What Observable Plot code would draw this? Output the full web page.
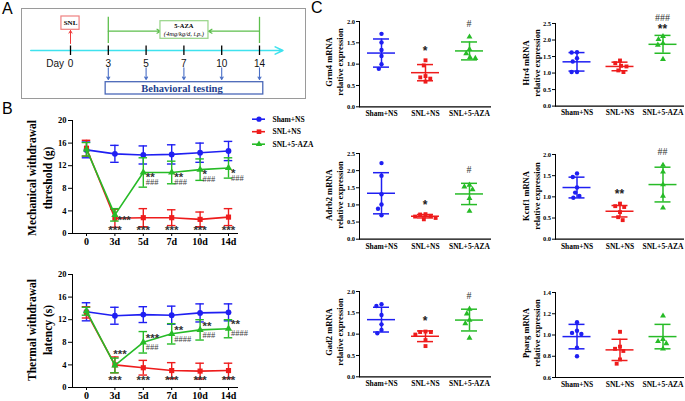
<!DOCTYPE html>
<html><head><meta charset="utf-8">
<script src="https://cdn.jsdelivr.net/npm/d3@7"></script>
<script src="https://cdn.jsdelivr.net/npm/@observablehq/plot@0.6"></script>
<style>
body{margin:0;background:#fff;}
#root{position:relative;width:685px;height:401px;overflow:hidden;background:#fff;font-family:"Liberation Serif",serif;}
.abs{position:absolute;}
.letter{position:absolute;font-family:"Liberation Sans",Arial,sans-serif;font-size:16px;line-height:16px;color:#000;}
.ytitle{position:absolute;transform:translate(-50%,-50%) rotate(-90deg);white-space:nowrap;text-align:center;font-family:"Liberation Serif",serif;font-weight:bold;color:#000;}
.bchart [aria-label^="y-axis"] text{font-size:8.5px;}
.bchart [aria-label^="x-axis"] text{font-size:10px;}
.cchart [aria-label^="y-axis"] text{font-size:6.5px;}
.cchart [aria-label^="fx-axis"] text{font-size:7.5px;}
</style>
</head><body>
<div id="root"></div>
<script>
// ---------- DATA ----------
// Panel A schedule
const scheduleDays = ["0","3","5","7","10","14"];
const testingDays = ["3","5","7","10","14"];
const treatStart = "3", treatEnd = "14";

// Panel B
const dayLabels = ["0","3d","5d","7d","10d","14d"];
const seriesNames = ["Sham+NS","SNL+NS","SNL+5-AZA"];
const seriesColors = ["#1f1ff2","#ee1c1c","#27bb27"];
const seriesSymbols = ["circle","square","triangle"];

const mechSham = [14.8,14.1,13.9,14.0,14.3,14.6];
const mechShamSD = [1.4,1.5,1.6,1.7,1.7,1.7];
const mechSNL = [15.1,2.7,2.8,2.8,2.5,2.9];
const mechSNLSD = [1.4,1.6,1.6,1.4,1.3,1.5];
const mechAZA = [14.9,3.3,10.8,10.8,11.3,11.6];
const mechAZASD = [1.2,1.1,2.6,2.0,1.9,1.8];
const mechStarsSNL = ["","***","***","***","***","***"];
const mechStarsAZA = ["","***","**","**","*","*"];
const mechHashAZA = ["","","###","###","###","###"];

const thermSham = [13.4,12.7,12.9,12.8,13.2,13.3];
const thermShamSD = [1.6,1.5,1.4,1.6,1.6,1.5];
const thermSNL = [13.3,4.0,3.5,3.0,2.9,3.0];
const thermSNLSD = [1.0,1.4,1.3,1.4,1.4,1.3];
const thermAZA = [13.5,3.9,8.0,9.5,10.2,10.4];
const thermAZASD = [0.7,1.3,1.9,1.8,1.8,1.6];
const thermStarsSNL = ["","***","***","***","***","***"];
const thermStarsAZA = ["","***","***","**","**","**"];
const thermHashAZA = ["","","###","####","###","####"];

// Panel C
const groups = ["Sham+NS","SNL+NS","SNL+5-AZA"];

const grm4Sham = [1.71,1.51,1.33,1.19,1.00,0.89];
const grm4SNL = [1.09,0.97,0.72,0.69,0.66,0.59];
const grm4AZA = [1.64,1.35,1.25,1.16,1.14];
const grm4Mean = [1.26,0.80,1.31];
const grm4SD = [0.33,0.19,0.21];
const grm4Stars = ["","*",""];
const grm4Hash = ["","","#"];

const htr4Sham = [1.63,1.62,1.45,1.35,1.03,1.03];
const htr4SNL = [1.38,1.30,1.22,1.20,1.08,1.03];
const htr4AZA = [2.11,2.02,1.90,1.85,1.42];
const htr4Mean = [1.34,1.20,1.87];
const htr4SD = [0.28,0.13,0.27];
const htr4Stars = ["","","**"];
const htr4Hash = ["","","###"];

const adrb2Sham = [2.22,1.85,1.31,1.01,0.89,0.70];
const adrb2SNL = [0.73,0.72,0.68,0.66,0.62,0.58];
const adrb2AZA = [1.58,1.53,1.45,1.19,0.82];
const adrb2Mean = [1.34,0.67,1.32];
const adrb2SD = [0.60,0.05,0.31];
const adrb2Stars = ["","*",""];
const adrb2Hash = ["","","#"];

const kcnf1Sham = [1.55,1.47,1.22,1.10,1.02,0.98];
const kcnf1SNL = [0.84,0.78,0.76,0.64,0.52,0.45];
const kcnf1AZA = [1.75,1.59,1.29,1.02,0.74];
const kcnf1Mean = [1.22,0.66,1.29];
const kcnf1SD = [0.245,0.135,0.41];
const kcnf1Stars = ["","**",""];
const kcnf1Hash = ["","","##"];

const gad2Sham = [1.70,1.66,1.45,1.23,1.10,1.02];
const gad2SNL = [1.06,1.05,1.05,0.99,0.86,0.72];
const gad2AZA = [1.59,1.48,1.33,1.25,0.91];
const gad2Mean = [1.34,0.95,1.33];
const gad2SD = [0.29,0.125,0.255];
const gad2Stars = ["","*",""];
const gad2Hash = ["","","#"];

const ppargSham = [1.12,1.04,1.02,1.01,0.88,0.80];
const ppargSNL = [1.03,0.89,0.87,0.85,0.77,0.73];
const ppargAZA = [1.18,0.96,0.94,0.92,0.87];
const ppargMean = [0.985,0.86,0.985];
const ppargSD = [0.115,0.10,0.115];
const ppargStars = ["","",""];
const ppargHash = ["","",""];

// ---------- LAYOUT HELPERS ----------
const root = document.getElementById("root");
function place(el, left, top, width, cls) {
  const d = document.createElement("div");
  d.className = "abs " + (cls || "");
  d.style.left = left + "px"; d.style.top = top + "px"; d.style.width = width + "px";
  d.appendChild(el); root.appendChild(d);
}
function letter(t, left, top) {
  const d = document.createElement("div");
  d.className = "letter"; d.textContent = t;
  d.style.left = left + "px"; d.style.top = top + "px";
  root.appendChild(d);
}
function ytitle(lines, cx, cy, size, lh) {
  const d = document.createElement("div");
  d.className = "ytitle";
  d.style.left = cx + "px"; d.style.top = cy + "px";
  d.style.fontSize = size + "px"; d.style.lineHeight = lh + "px";
  lines.forEach((t, i) => { if (i) d.appendChild(document.createElement("br")); d.appendChild(document.createTextNode(t)); });
  root.appendChild(d);
}
const baseStyle = {background: "transparent", overflow: "visible", fontFamily: "Liberation Serif", fontWeight: "bold", color: "#000"};

// ---------- PANEL A ----------
function panelA() {
  const idx = scheduleDays.map((d, i) => i);
  const test = testingDays.map(d => scheduleDays.indexOf(d));
  const s = scheduleDays.indexOf(treatStart), e = scheduleDays.indexOf(treatEnd);
  const mid = (s + e) / 2;
  const boxL = 2.38, boxR = 3.65;
  const green = "#5dbf4c", blue = "#4a6fc6";
  return Plot.plot({
    width: 286, height: 92, margin: 0,
    x: {domain: [0, 5], range: [50, 239], axis: null},
    y: {domain: [0, 92], range: [0, 92], axis: null},
    style: {...baseStyle, fontWeight: "normal"},
    marks: [
      Plot.frame({stroke: "#9a9a9a", inset: 1}),
      Plot.arrow([0], {x1: -1.05, x2: 5.62, y1: 43, y2: 43, stroke: "#3fe2ee", strokeWidth: 1.6, headLength: 8, headAngle: 50}),
      Plot.ruleX(idx, {x: d => d, y1: 38.5, y2: 48, stroke: "#000", strokeWidth: 1.3}),
      Plot.text(idx, {x: d => d, y: 56.5, text: d => scheduleDays[d], fontFamily: "Liberation Sans", fontSize: 10, fill: "#111"}),
      Plot.text(["Day"], {x: 0, y: 56.5, dx: -6.5, textAnchor: "end", text: d => d, fontFamily: "Liberation Sans", fontSize: 10, fill: "#111"}),
      Plot.arrow([0], {x1: 0, x2: 0, y1: 36, y2: 23, stroke: "#ee3a3a", strokeWidth: 1, headLength: 4.5}),
      Plot.rect([0], {x1: -0.24, x2: 0.24, y1: 9, y2: 22.3, stroke: "#ef8080", fill: "#fff", strokeWidth: 1.2}),
      Plot.text(["SNL"], {x: 0, y: 15.7, text: d => d, fontSize: 7, fontWeight: "bold"}),
      Plot.ruleX([s, e], {x: d => d, y1: 9.8, y2: 36, stroke: green, strokeWidth: 1.3}),
      Plot.arrow([s], {x1: d => d, x2: boxL, y1: 23.7, y2: 23.7, stroke: green, strokeWidth: 1.2, headLength: 5}),
      Plot.arrow([e], {x1: d => d, x2: boxR, y1: 23.7, y2: 23.7, stroke: green, strokeWidth: 1.2, headLength: 5}),
      Plot.rect([0], {x1: boxL, x2: boxR, y1: 13.7, y2: 31.3, stroke: "#96d487", fill: "#fff", strokeWidth: 1.2}),
      Plot.text(["5-AZA"], {x: mid, y: 18.3, text: d => d, fontSize: 6.5, fontWeight: "bold"}),
      Plot.text(["(4mg/kg/d, i.p.)"], {x: mid, y: 26.7, text: d => d, fontSize: 6.5, fontStyle: "italic"}),
      Plot.arrow(test, {x1: d => d, x2: d => d, y1: 60.3, y2: 72, stroke: blue, strokeWidth: 1.1, headLength: 4}),
      Plot.rect([0], {x1: 0.93, x2: 5.1, y1: 74.7, y2: 87, stroke: "#4a68b8", fill: "#fff", strokeWidth: 1.3}),
      Plot.text(["Behavioral testing"], {x: 2.95, y: 81.3, text: d => d, fontSize: 10.5, fontWeight: "bold", fill: "#243f8e"})
    ]
  });
}

// ---------- PANEL B ----------
function lineChart(means, sds, starsSNL, starsAZA, hashAZA, opt) {
  const rows = [];
  means.forEach((arr, s) => arr.forEach((m, i) => rows.push({s, i, m, sd: sds[s][i]})));
  const idx = dayLabels.map((d, i) => i);
  const marks = [Plot.ruleY([0], {stroke: "#000", strokeWidth: 1.2})];
  seriesNames.forEach((name, s) => {
    const rs = rows.filter(r => r.s === s);
    const c = seriesColors[s];
    marks.push(
      Plot.line(rs, {x: "i", y: "m", stroke: c, strokeWidth: 1.6}),
      Plot.ruleX(rs, {x: "i", y1: r => r.m - r.sd, y2: r => r.m + r.sd, stroke: c, strokeWidth: 1.4}),
      Plot.ruleY(rs, {y: r => r.m + r.sd, x1: r => r.i - 0.15, x2: r => r.i + 0.15, stroke: c, strokeWidth: 1.4}),
      Plot.ruleY(rs, {y: r => r.m - r.sd, x1: r => r.i - 0.15, x2: r => r.i + 0.15, stroke: c, strokeWidth: 1.4}),
      Plot.dot(rs, {x: "i", y: "m", symbol: seriesSymbols[s], fill: c, r: s === 2 ? 2.7 : 2.9})
    );
  });
  const aza = means[2];
  marks.push(
    Plot.text(idx.filter(i => starsSNL[i]), {x: d => d, frameAnchor: "bottom", dy: opt.redDy, text: i => starsSNL[i], fontFamily: "Liberation Sans", fontSize: 11.5, fill: "#333"}),
    Plot.text(idx.filter(i => starsAZA[i] && !(opt.firstAbove && i === 1)), {x: d => d, y: i => aza[i], dx: 2.5, dy: opt.starDy, textAnchor: "start", text: i => starsAZA[i], fontFamily: "Liberation Sans", fontSize: 11.5, fill: "#333"}),
    Plot.text(idx.filter(i => starsAZA[i] && opt.firstAbove && i === 1), {x: d => d, y: i => aza[i], dx: 5, dy: -11, text: i => starsAZA[i], fontFamily: "Liberation Sans", fontSize: 11.5, fill: "#333"}),
    Plot.text(idx.filter(i => hashAZA[i]), {x: d => d, y: i => aza[i], dx: 2.5, dy: opt.hashDy, textAnchor: "start", text: i => hashAZA[i], fontSize: 8.5, fontWeight: "normal", fill: "#444"})
  );
  return Plot.plot({
    width: 245, height: 137, marginLeft: 72, marginRight: 7, marginTop: 10, marginBottom: 14,
    x: {domain: [0, 5], range: [86, 228], ticks: idx, tickFormat: i => dayLabels[i], tickSize: 3, tickPadding: 1.5, label: null},
    y: {domain: [0, 20], ticks: [0, 4, 8, 12, 16, 20], tickSize: 4, tickPadding: 2, line: true, label: null},
    style: {...baseStyle, fontSize: "8.5px"},
    marks
  });
}

function legendB() {
  const idx = seriesNames.map((d, i) => i);
  return Plot.plot({
    width: 75, height: 45, margin: 0,
    x: {domain: [0, 1], range: [4, 17], axis: null},
    y: {domain: [0, 2], range: [8.7, 33.7], axis: null},
    style: {...baseStyle},
    marks: [
      Plot.ruleY(idx, {y: d => d, x1: 0, x2: 1, stroke: i => seriesColors[i], strokeWidth: 1.6}),
      Plot.dot(idx.filter(i => i === 0), {x: 0.5, y: d => d, symbol: "circle", fill: seriesColors[0], r: 2.6}),
      Plot.dot(idx.filter(i => i === 1), {x: 0.5, y: d => d, symbol: "square", fill: seriesColors[1], r: 2.6}),
      Plot.dot(idx.filter(i => i === 2), {x: 0.5, y: d => d, symbol: "triangle", fill: seriesColors[2], r: 2.4}),
      Plot.text(idx, {x: 1, y: d => d, dx: 7, textAnchor: "start", text: i => seriesNames[i], fontSize: 7.5, fontWeight: "bold"})
    ]
  });
}

// ---------- PANEL C ----------
function scatter(cfg) {
  const {values, means, sds, stars, hashes, domain, ticks, frame} = cfg;
  const rows = [];
  groups.forEach((g, k) => {
    const top = Math.max(d3.max(values[k]), means[k] + sds[k]);
    values[k].forEach((v, j) => rows.push({g, v, mean: means[k], sd: sds[k], top, star: stars[k], hash: hashes[k], first: j === 0}));
  });
  const mL = 22, mR = 2, mT = 8, mB = 16;
  const fw = frame.r - frame.l, band = fw / 3;
  const meanInset = (band - 28) / 2, capInset = (band - 16) / 2;
  const svg = Plot.plot({
    width: mL + fw + mR, height: mT + (frame.b - frame.t) + mB,
    marginLeft: mL, marginRight: mR, marginTop: mT, marginBottom: mB,
    facet: {data: rows, x: "g"},
    fx: {domain: groups, padding: 0, axis: "bottom", tickSize: 0, tickPadding: 4, label: null},
    x: {domain: [-1, 1], axis: null},
    y: {domain, ticks, tickFormat: d3.format(".1f"), tickSize: 3, tickPadding: 1.5, line: true, label: null, nice: false},
    color: {domain: groups, range: seriesColors},
    symbol: {domain: groups, range: seriesSymbols},
    style: {...baseStyle, fontSize: "6.5px"},
    marks: [
      Plot.ruleY([domain[0]], {stroke: "#000", strokeWidth: 1.2}),
      Plot.ruleX(rows, {filter: d => d.first, x: 0, y1: d => d.mean - d.sd, y2: d => d.mean + d.sd, stroke: "g", strokeWidth: 1.5}),
      Plot.tickY(rows, {filter: d => d.first, y: "mean", stroke: "g", strokeWidth: 1.5, insetLeft: meanInset, insetRight: meanInset}),
      Plot.tickY(rows, {filter: d => d.first, y: d => d.mean + d.sd, stroke: "g", strokeWidth: 1.5, insetLeft: capInset, insetRight: capInset}),
      Plot.tickY(rows, {filter: d => d.first, y: d => d.mean - d.sd, stroke: "g", strokeWidth: 1.5, insetLeft: capInset, insetRight: capInset}),
      Plot.dot(rows, Plot.dodgeX("middle", {y: "v", r: 2.2, fill: "g", symbol: "g"})),
      Plot.text(rows, {filter: d => d.first && d.star, x: 0, y: "top", text: "star", fontFamily: "Liberation Sans", fontSize: 12, fill: "#222"}),
      Plot.text(rows, {filter: d => d.first && d.hash, x: 0, y: "top", text: "hash", fontSize: 10, fontWeight: "normal", fill: "#333"})
    ]
  });
  // vertical offsets of significance labels (layout)
  const tx = svg.querySelectorAll('g[aria-label="text"]');
  if (tx[0]) tx[0].setAttribute("transform", `translate(0,${cfg.both ? -6 : -9})`);
  if (tx[1]) tx[1].setAttribute("transform", `translate(0,${cfg.both ? -17 : -13})`);
  place(svg, frame.l - mL, frame.t - mT, mL + fw + mR, "cchart");
  ytitle(cfg.title, frame.l < 500 ? 333.7 : 531, (frame.t + frame.b) / 2 - 1, 8.5, 10.5);
}

// ---------- BUILD ----------
letter("A", 2, 1);
letter("B", 2, 101);
letter("C", 311, 0);

place(panelA(), 20, 7, 286);

place(lineChart([mechSham, mechSNL, mechAZA], [mechShamSD, mechSNLSD, mechAZASD], mechStarsSNL, mechStarsAZA, mechHashAZA,
  {redDy: 0, starDy: 5, hashDy: 10, firstAbove: false}), 0, 110, 245, "bchart");
place(lineChart([thermSham, thermSNL, thermAZA], [thermShamSD, thermSNLSD, thermAZASD], thermStarsSNL, thermStarsAZA, thermHashAZA,
  {redDy: -4, starDy: -4, hashDy: 5, firstAbove: true}), 0, 264, 245, "bchart");
place(legendB(), 248, 110, 75);
ytitle(["Mechanical withdrawal", "threshold (g)"], 39.9, 177.5, 11.5, 16.3);
ytitle(["Thermal withdrawal", "latency (s)"], 39.9, 330, 11.5, 16.3);

scatter({title: ["Grm4 mRNA", "relative expression"], values: [grm4Sham, grm4SNL, grm4AZA], means: grm4Mean, sds: grm4SD, stars: grm4Stars, hashes: grm4Hash,
  domain: [0, 2], ticks: [0, 0.5, 1, 1.5, 2], frame: {l: 359, r: 491, t: 20.7, b: 106}});
scatter({title: ["Htr4 mRNA", "relative expression"], values: [htr4Sham, htr4SNL, htr4AZA], means: htr4Mean, sds: htr4SD, stars: htr4Stars, hashes: htr4Hash, both: true,
  domain: [0, 2.5], ticks: [0, 0.5, 1, 1.5, 2, 2.5], frame: {l: 555, r: 684, t: 22.7, b: 105.3}});
scatter({title: ["Adrb2 mRNA", "relative expression"], values: [adrb2Sham, adrb2SNL, adrb2AZA], means: adrb2Mean, sds: adrb2SD, stars: adrb2Stars, hashes: adrb2Hash,
  domain: [0, 2.5], ticks: [0, 0.5, 1, 1.5, 2, 2.5], frame: {l: 359, r: 491, t: 153.3, b: 239}});
scatter({title: ["Kcnf1 mRNA", "relative expression"], values: [kcnf1Sham, kcnf1SNL, kcnf1AZA], means: kcnf1Mean, sds: kcnf1SD, stars: kcnf1Stars, hashes: kcnf1Hash,
  domain: [0, 2], ticks: [0, 0.5, 1, 1.5, 2], frame: {l: 555, r: 684, t: 154.3, b: 239}});
scatter({title: ["Gad2 mRNA", "relative expression"], values: [gad2Sham, gad2SNL, gad2AZA], means: gad2Mean, sds: gad2SD, stars: gad2Stars, hashes: gad2Hash,
  domain: [0, 2], ticks: [0, 0.5, 1, 1.5, 2], frame: {l: 359, r: 491, t: 290.7, b: 376}});
scatter({title: ["Pparg mRNA", "relative expression"], values: [ppargSham, ppargSNL, ppargAZA], means: ppargMean, sds: ppargSD, stars: ppargStars, hashes: ppargHash,
  domain: [0.6, 1.4], ticks: [0.6, 0.8, 1.0, 1.2, 1.4], frame: {l: 555, r: 684, t: 291.7, b: 376.7}});
</script>
</body></html>
